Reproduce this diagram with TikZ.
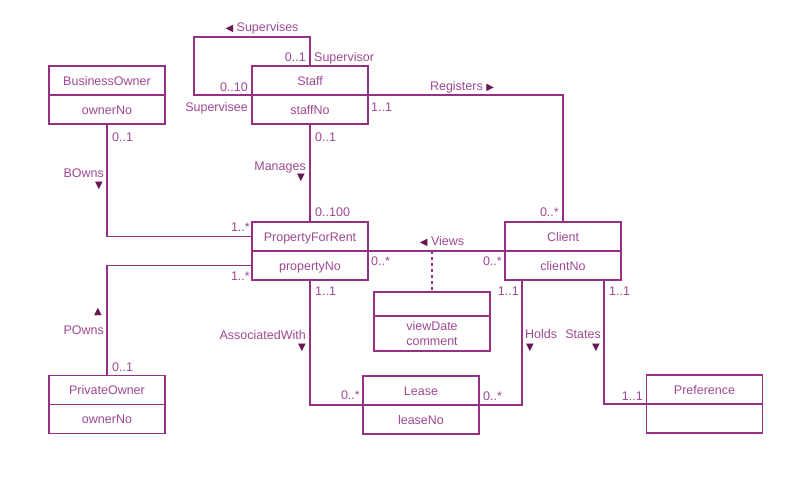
\documentclass[tikz,border=0pt]{standalone}
\usepackage{fontspec}
\setmainfont{Liberation Sans}
\newfontfamily\symfont{DejaVu Sans}
\usetikzlibrary{positioning}
\definecolor{umlline}{RGB}{150,48,132}
\definecolor{umltext}{RGB}{158,72,146}
\definecolor{umlarrow}{RGB}{105,22,85}
\newcommand{\umlfont}{\fontsize{12.5}{15}\selectfont}
\newcommand{\dirL}{{\color{umlarrow}\symfont\fontsize{10}{10}\selectfont ◀}}
\newcommand{\dirR}{{\color{umlarrow}\symfont\fontsize{10}{10}\selectfont ▶}}
\begin{document}
\begin{tikzpicture}[x=1pt,y=-1pt,
  classbox/.style={draw=umlline, line width=1.3pt, minimum width=116pt, minimum height=29pt,
    inner sep=0pt, outer sep=0pt, text height=9pt, text depth=0pt, text=umltext, font=\umlfont},
  assoc/.style={draw=umlline, line width=1.3pt},
  mult/.style={text=umltext, font=\umlfont, inner sep=0pt, text height=9pt, text depth=0pt},
  dirmark/.style={text=umlarrow, font=\symfont\fontsize{10}{10}\selectfont, inner sep=0pt}]
\useasboundingbox (0,0) rectangle (809,479);
% classes
\node[classbox] (bowner) at (107,80.5) {BusinessOwner};
\node[classbox, below=0pt of bowner] (bownerattr) {ownerNo};
\node[classbox] (staff) at (310,80.5) {Staff};
\node[classbox, below=0pt of staff] (staffattr) {staffNo};
\node[classbox] (pfr) at (310,236.5) {PropertyForRent};
\node[classbox, below=0pt of pfr] (pfrattr) {propertyNo};
\node[classbox] (client) at (563,236.5) {Client};
\node[classbox, below=0pt of client] (clientattr) {clientNo};
\node[classbox, minimum height=24pt] (view) at (432,304) {};
\node[classbox, minimum height=35pt, text height=, text depth=, align=center, below=0pt of view] (viewattr) {viewDate\\comment};
\node[classbox] (powner) at (107,390) {PrivateOwner};
\node[classbox, below=0pt of powner] (powneraddr) {ownerNo};
\node[classbox] (lease) at (421,390.5) {Lease};
\node[classbox, below=0pt of lease] (leaseattr) {leaseNo};
\node[classbox] (pref) at (704.5,389.5) {Preference};
\node[classbox, below=0pt of pref] (prefattr) {};
% associations
\coordinate (loop) at (194,37);
\draw[assoc] (staff.south west) -| (loop) -| (staff.north);
\draw[assoc] (staff.south east) -| (client.north);
\draw[assoc] (staffattr.south) -- (pfr.north);
\draw[assoc] (bownerattr.south) |- (pfr.west);
\draw[assoc] (pfrattr.west) -| (powner.north);
\draw[assoc] (pfrattr.south) |- (lease.south west);
\draw[assoc] (pfr.south east) -- (client.south west);
\coordinate (viewsmid) at (view.north |- pfr.south east);
\draw[assoc, dash pattern=on 3pt off 3pt] (viewsmid) -- (view.north);
\draw[assoc] ([xshift=17pt]clientattr.south west) |- (lease.south east);
\draw[assoc] ([xshift=-17pt]clientattr.south east) |- (pref.south west);
% labels
\node[mult] (supervises) at (262,27) {\dirL~Supervises};
\node[mult, anchor=east] (supmult) at (306,57) {0..1};
\node[mult, anchor=west] (supervisor) at (314,57) {Supervisor};
\node[mult, anchor=east] (submult) at (248,87) {0..10};
\node[mult, anchor=east] (supervisee) at (248,107) {Supervisee};
\node[mult] (registers) at (462,86) {Registers~\dirR};
\node[mult, anchor=west] (regstaff) at (371,107) {1..1};
\node[mult, anchor=east] (regclient) at (559,212) {0..*};
\node[mult, anchor=west] (mgstaff) at (315,137) {0..1};
\node[mult, anchor=east] (manages) at (306,166) {Manages};
\node[dirmark] (managesdir) at (301,178) {▼};
\node[mult, anchor=west] (mgpfr) at (315,212) {0..100};
\node[mult, anchor=west] (bomult) at (112,137) {0..1};
\node[mult, anchor=east] (bowns) at (104,173) {BOwns};
\node[dirmark] (bownsdir) at (99,186) {▼};
\node[mult, anchor=east] (bopfr) at (250,227) {1..*};
\node[mult, anchor=east] (popfr) at (250,276) {1..*};
\node[dirmark] (pownsdir) at (98,312) {▲};
\node[mult, anchor=east] (powns) at (104,330) {POwns};
\node[mult, anchor=west] (pomult) at (112,367) {0..1};
\node[mult, anchor=west] (aspfr) at (315,291) {1..1};
\node[mult, anchor=east] (assocwith) at (306,335) {AssociatedWith};
\node[dirmark] (assocdir) at (302,348) {▼};
\node[mult, anchor=east] (aslease) at (360,395) {0..*};
\node[mult] (views) at (442,241) {\dirL~Views};
\node[mult, anchor=west] (vwpfr) at (371,261) {0..*};
\node[mult, anchor=east] (vwclient) at (502,261) {0..*};
\node[mult, anchor=east] (hdclient) at (519,291) {1..1};
\node[mult, anchor=west] (stclient) at (609,291) {1..1};
\node[mult, anchor=west] (holds) at (525,334) {Holds};
\node[dirmark] (holdsdir) at (530,348) {▼};
\node[mult, anchor=east] (states) at (601,334) {States};
\node[dirmark] (statesdir) at (596,348) {▼};
\node[mult, anchor=west] (hdlease) at (483,396) {0..*};
\node[mult, anchor=east] (stpref) at (643,396) {1..1};
\end{tikzpicture}
\end{document}
